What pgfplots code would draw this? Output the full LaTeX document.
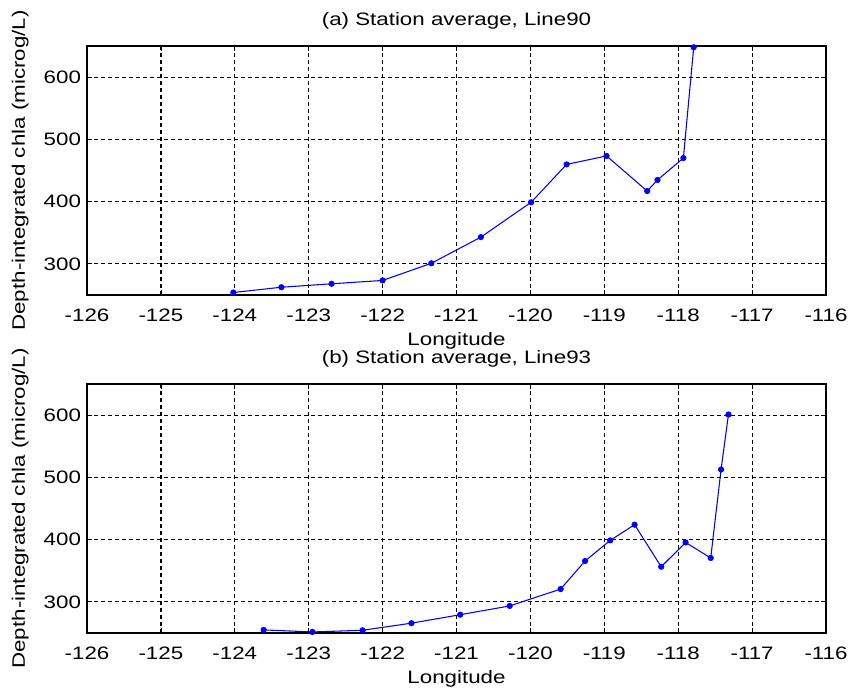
\documentclass[border=0pt]{standalone}
\usepackage{fontspec}
\setmainfont{Liberation Sans}[FakeStretch=1.24]
\usepackage{pgfplots}
\pgfplotsset{compat=1.18}

% Station averages along each line: longitude, depth-integrated chla
\newcommand{\lineninety}{
(-124.02,254) (-123.37,262.5) (-122.69,268) (-122.00,273.4)
(-121.34,301) (-120.67,343) (-119.99,399) (-119.51,459.8)
(-118.97,473.4) (-118.42,417) (-118.28,434.8) (-117.93,470)
(-117.79,648)
}
\newcommand{\lineninetythree}{
(-123.61,255) (-122.95,251.7) (-122.27,254.4) (-121.61,265.8)
(-120.95,279.4) (-120.28,293.5) (-119.59,320.6) (-119.26,365.7)
(-118.92,398.8) (-118.59,424) (-118.23,356.4) (-117.90,395.5)
(-117.56,370.5) (-117.42,512.7) (-117.32,601)
}

\pgfplotsset{
  every axis title shift=0pt,
  stationaxis/.style={
    scale only axis,
    width=554.25pt, height=186.75pt,
    anchor=south west,
    xmin=-126, xmax=-116, ymin=250, ymax=650,
    xtick={-126,-125,...,-116},
    ytick={300,400,500,600},
    tick align=inside,
    major tick length=4pt,
    tick style={black, line width=0.6pt},
    axis line style={black, line width=0.8pt},
    grid=major,
    major grid style={black, line width=0.9pt, dash pattern=on 3pt off 2.25pt},
    font=\fontsize{13.5}{15.5}\selectfont,
    /pgf/number format/assume math mode=true,
    /pgf/number format/set thousands separator={},
    xticklabel style={anchor=center, yshift=-15pt},
    yticklabel style={anchor=east, xshift=-1pt},
    xlabel={Longitude},
    xlabel style={at={(axis description cs:0.5,0)}, anchor=center, yshift=-34.5pt},
    ylabel={Depth-integrated chla (microg/L)},
    ylabel style={at={(axis description cs:0,0.5)}, anchor=center, yshift=50pt},
    title style={at={(axis description cs:0.5,1)}, anchor=center, yshift=18.5pt},
    clip=true,
  },
  stationline/.style={
    color={rgb,1:red,0;green,0;blue,1},
    line width=0.8pt,
    mark=*, mark size=1.9pt,
    mark options={solid, fill={rgb,1:red,0;green,0;blue,1}},
  },
}

\begin{document}
\begin{tikzpicture}
\useasboundingbox (0,0) rectangle (636pt,520.5pt);

\begin{axis}[stationaxis, at={(65.25pt,299.25pt)},
  title={(a) Station average, Line90}]
\addplot[stationline] coordinates {\lineninety};
\end{axis}

\begin{axis}[stationaxis, at={(65.25pt,45.75pt)},
  title={(b) Station average, Line93}]
\addplot[stationline] coordinates {\lineninetythree};
\end{axis}
\end{tikzpicture}
\end{document}
